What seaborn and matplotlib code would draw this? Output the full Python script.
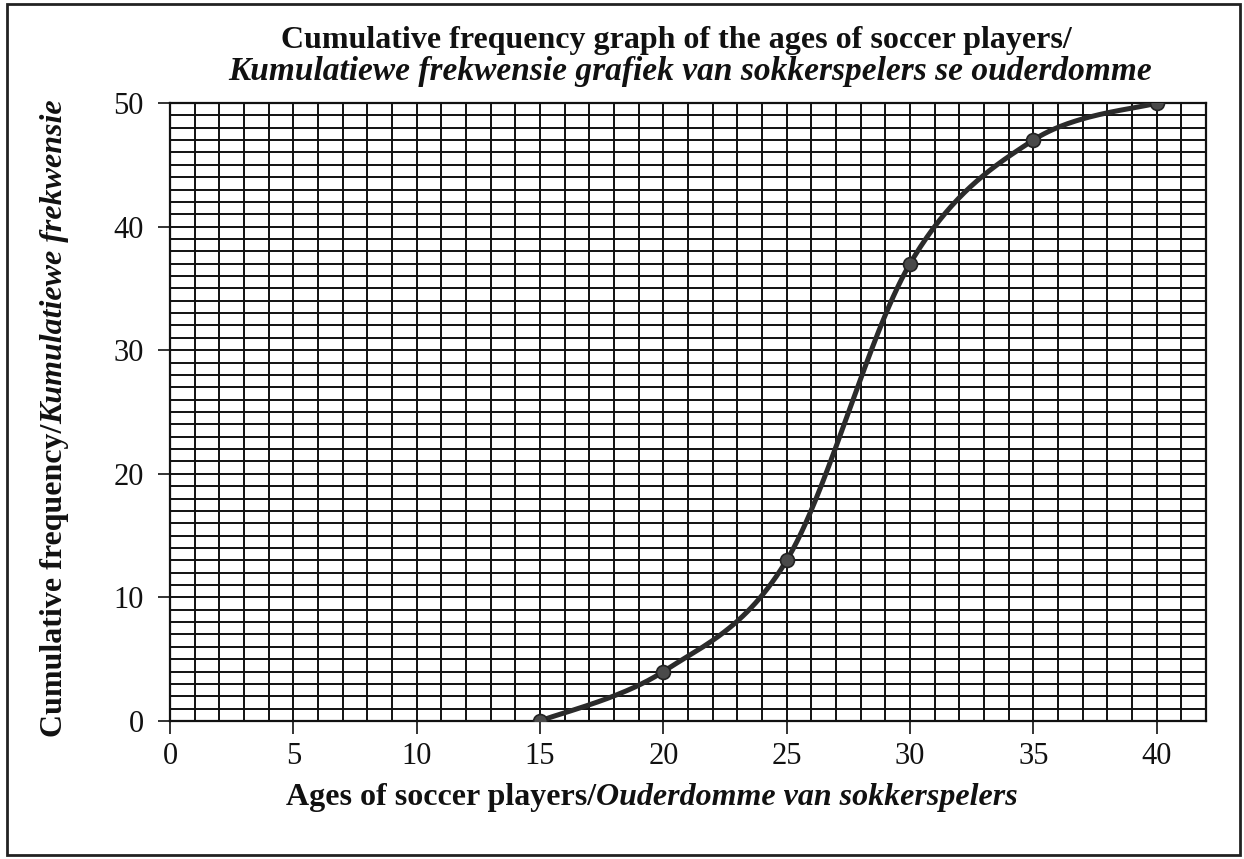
import numpy as np
import pandas as pd
import matplotlib
matplotlib.use('Agg')
import matplotlib.pyplot as plt
from matplotlib.patches import Rectangle
import seaborn as sns

# data read from the ogive
ages = [15, 20, 25, 30, 35, 40]
cum_freq = [0, 4, 13, 37, 47, 50]
x_ticks = [0, 5, 10, 15, 20, 25, 30, 35, 40]
y_ticks = [0, 10, 20, 30, 40, 50]

title_1 = "Cumulative frequency graph of the ages of soccer players/"
title_2 = "Kumulatiewe frekwensie grafiek van sokkerspelers se ouderdomme"
xlabel_parts = ["Ages of soccer players/", "Ouderdomme van sokkerspelers"]
ylabel_parts = ["Cumulative frequency/", "Kumulatiewe frekwensie"]

W, H = 1244, 859
SERIF = ['Liberation Serif', 'DejaVu Serif']

sns.set_theme(style='white')
plt.rcParams['font.family'] = SERIF


def smooth_curve(xs, ys, n=60):
    """Excel-style smoothed line (Bezier segments through the points)"""
    pts = np.column_stack([xs, ys]).astype(float)
    out = []
    for i in range(len(pts) - 1):
        p0 = pts[max(i - 1, 0)]
        p1 = pts[i]
        p2 = pts[i + 1]
        p3 = pts[min(i + 2, len(pts) - 1)]
        c1 = p1 + (p2 - p0) / 6
        c2 = p2 - (p3 - p1) / 6
        t = np.linspace(0, 1, n)[:, None]
        seg = (1 - t) ** 3 * p1 + 3 * (1 - t) ** 2 * t * c1 + 3 * (1 - t) * t ** 2 * c2 + t ** 3 * p2
        out.append(seg if i == 0 else seg[1:])
    return np.vstack(out)


def px(x, y):
    """pixel (from top-left) -> figure fraction"""
    return x / W, 1 - y / H


def mixed_text(fig, cx, cy, parts, styles, size, rotation=0):
    """draw pieces of text in different styles, centred on (cx, cy) baseline"""
    renderer = fig.canvas.get_renderer()
    texts = []
    for s, st in zip(parts, styles):
        t = fig.text(0, 0, s, fontsize=size, fontweight='bold', fontstyle=st,
                     rotation=rotation, rotation_mode='anchor',
                     ha='left', va='baseline', family=SERIF, color='#111111')
        texts.append(t)
    sizes = []
    for t in texts:
        bb = t.get_window_extent(renderer)
        sizes.append(bb.width if rotation == 0 else bb.height)
    total = sum(sizes)
    pos = -total / 2
    for t, w in zip(texts, sizes):
        if rotation == 0:
            t.set_position(px(cx + pos, cy))
        else:
            t.set_position(px(cx, cy - pos))
        pos += w


fig = plt.figure(figsize=(W / 100, H / 100), dpi=100)
ax = fig.add_axes([170 / W, 1 - 721 / H, (1206 - 170) / W, (721 - 103) / H])

curve = smooth_curve(ages, cum_freq)
curve_df = pd.DataFrame({'age': curve[:, 0], 'cf': curve[:, 1]})
points_df = pd.DataFrame({'age': ages, 'cf': cum_freq})

sns.lineplot(data=curve_df, x='age', y='cf', ax=ax, color='#2b2b2b', lw=3.6,
             sort=False, zorder=4)
sns.scatterplot(data=points_df, x='age', y='cf', ax=ax, color='#4a4a4a', s=100,
                edgecolor='#222222', linewidth=1.2, zorder=5)

ax.set_xlim(0, 42)
ax.set_ylim(0, 50)
ax.set_xticks(x_ticks)
ax.set_yticks(y_ticks)
ax.set_xticks(np.arange(0, 43, 1), minor=True)
ax.set_yticks(np.arange(0, 51, 1), minor=True)
ax.grid(which='both', color='#111111', lw=1.4)
ax.set_axisbelow(True)
ax.tick_params(axis='both', which='major', direction='out', length=9, width=1.2,
               color='#111111', labelsize=22, labelcolor='#111111', pad=6,
               bottom=True, left=True)
ax.tick_params(axis='y', which='major', pad=10)
ax.tick_params(axis='both', which='minor', length=0)
for sp in ax.spines.values():
    sp.set_color('#111111')
    sp.set_linewidth(1.6)
ax.set_xlabel('')
ax.set_ylabel('')

# titles and axis labels
fig.text(*px(676, 48), title_1, fontsize=23, fontweight='bold', ha='center',
         va='baseline', color='#111111')
fig.text(*px(690, 80), title_2, fontsize=24, fontweight='bold', fontstyle='italic',
         ha='center', va='baseline', color='#111111')
mixed_text(fig, 652, 805, xlabel_parts, ['normal', 'italic'], 23)
mixed_text(fig, 62, 418, ylabel_parts, ['normal', 'italic'], 23, rotation=90)

# outer frame
fig.patches.append(Rectangle((7 / W, 4 / H), (1240 - 7) / W, (855 - 4) / H,
                             transform=fig.transFigure, fill=False,
                             edgecolor='#222222', lw=2))

fig.savefig('out.png', dpi=100)
